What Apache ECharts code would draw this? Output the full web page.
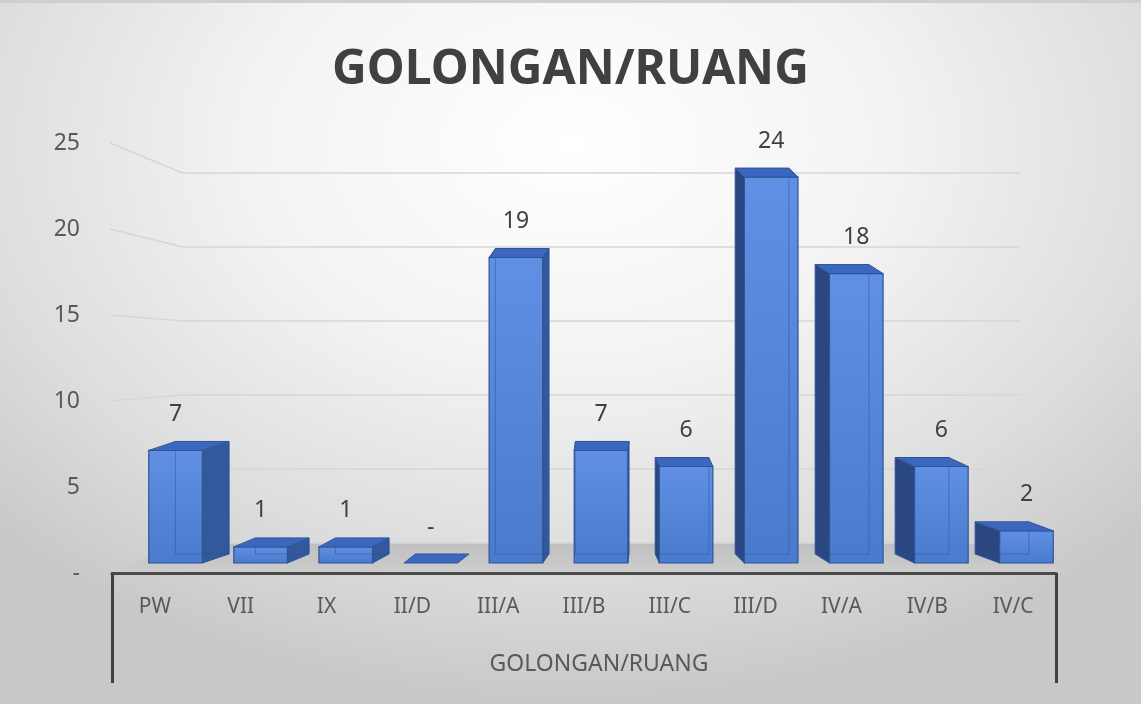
<!DOCTYPE html>
<html><head><meta charset="utf-8">
<script src="https://cdn.jsdelivr.net/npm/echarts@6/dist/echarts.min.js"></script>
<style>
html,body{margin:0;padding:0;width:1141px;height:704px;overflow:hidden;background:#fff;}
#c{width:1141px;height:704px;box-sizing:border-box;border-top:3px solid #cfcfcf;background:radial-gradient(ellipse 70% 80% at 50% 20%, #ffffff 0%, #f3f3f3 40%, #dddddd 75%, #c8c8c8 100%);}
</style></head><body><div id="c"></div>
<script>
// ---- data ----
const categories = ['PW','VII','IX','II/D','III/A','III/B','III/C','III/D','IV/A','IV/B','IV/C'];
const values = [7, 1, 1, 0, 19, 7, 6, 24, 18, 6, 2];
const yTicks = [0, 5, 10, 15, 20, 25];
const titleText = 'GOLONGAN/RUANG';
const axisTitle = 'GOLONGAN/RUANG';

// ---- layout ----
const W = 1141, H = 701;
const G0 = {left:112, right:W-1056, top:140, bottom:H-570};   // front (labels)
const G1 = {left:183, right:W-1020, top:170, bottom:H-540};   // back wall
const G2 = {left:133, right:W-1069, top:158, bottom:H-560};   // bars

const chart = echarts.init(document.getElementById('c'), null, {renderer:'canvas', width:W, height:H});
const FONT = '"Noto Sans", "DejaVu Sans", sans-serif';

function renderBar(params, api){
  const i = api.value(0), v = api.value(1);
  const top = api.coord([i, v]), base = api.coord([i, 0]);
  const bw = api.size([1, 0])[0] * 0.63;
  const cx = top[0], x0 = cx - bw/2, x1 = cx + bw/2, yt = top[1], yb = base[1];
  const cs = params.coordSys;
  const vx = cs.x + cs.width * 0.52;
  const dx = 0.06 * (vx - cx), dy = -9;
  const stroke = '#2f5597';
  const ch = [];
  if (v > 0 && Math.abs(dx) > 0.5){
    const sx = dx > 0 ? x1 : x0;
    ch.push({type:'polygon', shape:{points:[[sx,yt],[sx+dx,yt+dy],[sx+dx,yb+dy],[sx,yb]]},
      style:{fill: dx>0 ? '#34589c' : '#2a4782', stroke:stroke, lineWidth:1}});
  }
  if (v > 0){
    ch.push({type:'rect', shape:{x:x0, y:yt, width:bw, height:yb-yt},
      style:{fill:new echarts.graphic.LinearGradient(0,0,0,1,[{offset:0,color:'#5f90e3'},{offset:1,color:'#4a7acb'}]),
             stroke:stroke, lineWidth:1.2}});
    ch.push({type:'polyline', shape:{points:[[x0+dx, yt+dy],[x0+dx, yb+dy],[x1+dx, yb+dy],[x1+dx, yt+dy]]},
      style:{stroke:'rgba(40,75,150,0.45)', lineWidth:1, fill:null}});
  }
  ch.push({type:'polygon', shape:{points:[[x0,yt],[x1,yt],[x1+dx,yt+dy],[x0+dx,yt+dy]]},
    style:{fill:'#3b67be', stroke:stroke, lineWidth:1}});
  ch.push({type:'text', style:{text: v === 0 ? '-' : String(v), x: cx, y: yt + dy - 27,
    align:'center', verticalAlign:'middle', fontSize:23, fontFamily:FONT, fill:'#404040'}});
  return {type:'group', children: ch};
}

const option = {
  animation:false,
  backgroundColor:'transparent',
  title:{text:titleText, left:'center', top:38,
    textStyle:{fontSize:48, fontWeight:'bold', color:'#404040', fontFamily:FONT}},
  grid:[
    Object.assign({containLabel:false}, G0),
    Object.assign({containLabel:false}, G1),
    Object.assign({containLabel:false}, G2)
  ],
  xAxis:[
    {gridIndex:0, type:'category', data:categories,
     axisLine:{show:true, lineStyle:{color:'#4a4a4a', width:3}},
     axisTick:{show:true, interval:function(idx){return idx===0;}, length:110, lineStyle:{color:'#404040', width:3}},
     axisLabel:{fontSize:21, color:'#595959', margin:24, fontFamily:FONT, interval:0},
     name:axisTitle, nameLocation:'middle', nameGap:80,
     nameTextStyle:{fontSize:23, color:'#595959', fontFamily:FONT, padding:[0,0,0,30]}},
    {gridIndex:1, type:'category', data:categories, show:false},
    {gridIndex:2, type:'category', data:categories, show:false}
  ],
  yAxis:[
    {gridIndex:0, type:'value', min:0, max:25, interval:5,
     axisLine:{show:false}, axisTick:{show:false}, splitLine:{show:false},
     axisLabel:{fontSize:23, color:'#595959', margin:32, fontFamily:FONT,
       formatter:function(v){return v===0 ? '-' : String(v);}}},
    {gridIndex:1, type:'value', min:0, max:25, interval:5,
     axisLine:{show:false}, axisTick:{show:false}, axisLabel:{show:false},
     splitLine:{show:true, lineStyle:{color:'#d6d6d6', width:1.5}}},
    {gridIndex:2, type:'value', min:0, max:25, interval:5, show:false, splitLine:{show:false}}
  ],
  series:[
    {type:'custom', xAxisIndex:2, yAxisIndex:2, z:5,
     data: values.map(function(v,i){return [i, v];}),
     encode:{x:0, y:1},
     renderItem: renderBar}
  ]
};
chart.setOption(option);

function yF(v){ return chart.convertToPixel({yAxisIndex:0}, v); }
function yB(v){ return chart.convertToPixel({yAxisIndex:1}, v); }
const gfx = [];
gfx.push({type:'polygon', z:-1,
  shape:{points:[[G0.left, yF(0)-1],[G1.left, yB(0)],[W-G1.right, yB(0)],[W-G0.right+14, yF(0)-1]]},
  style:{fill:new echarts.graphic.LinearGradient(0,0,0,1,[{offset:0,color:'#bfbfbf'},{offset:1,color:'#cdcdcd'}])}});
yTicks.forEach(function(v){
  if (v > 0) gfx.push({type:'line', z:-1,
    shape:{x1:G0.left-2, y1:yF(v), x2:G1.left, y2:yB(v)},
    style:{stroke:'#d6d6d6', lineWidth:1.5}});
});
chart.setOption({graphic: gfx});
</script>
</body></html>
